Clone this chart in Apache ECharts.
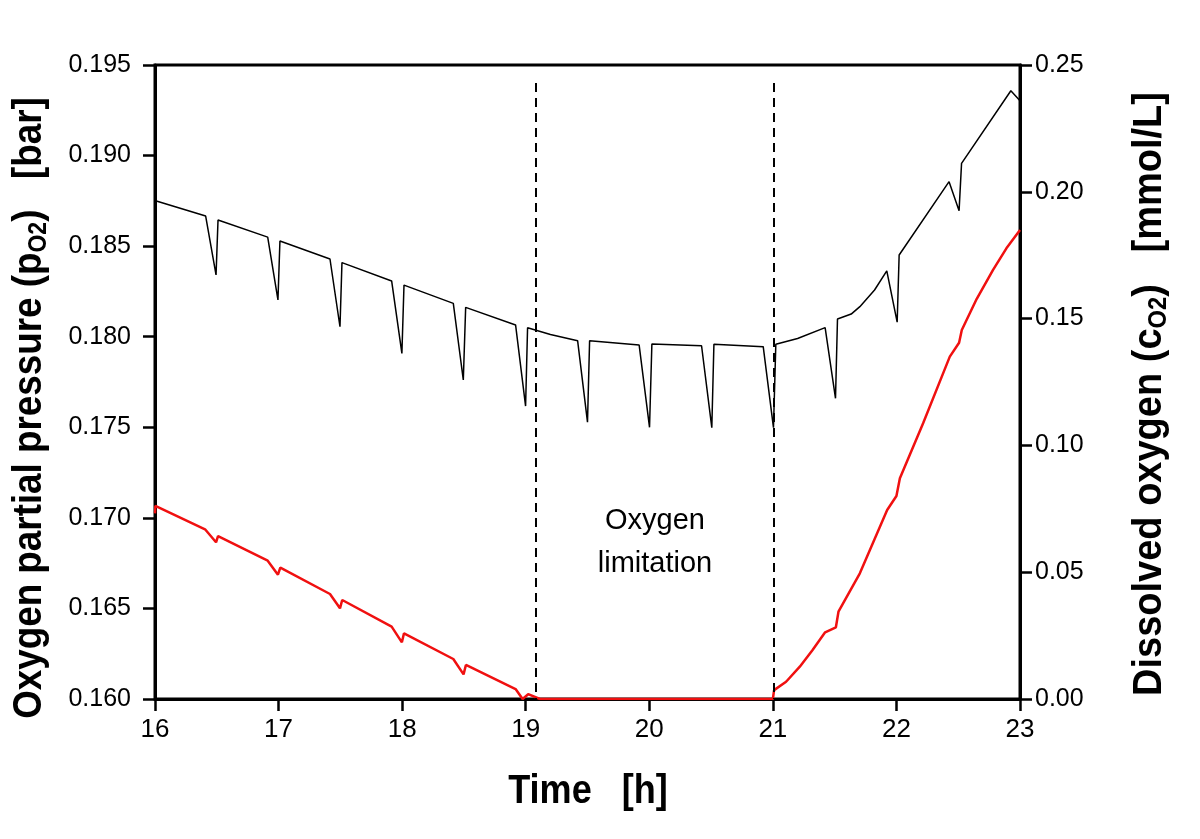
<!DOCTYPE html>
<html><head><meta charset="utf-8">
<script src="https://cdn.jsdelivr.net/npm/echarts@6/dist/echarts.min.js"></script>
<style>html,body{margin:0;padding:0;background:#fff}#c{width:1200px;height:839px}</style>
</head><body><div id="c"></div>
<script>
const timeBlack = [16.0, 16.004, 16.41, 16.494, 16.51, 16.912, 16.995, 17.011, 17.416, 17.497, 17.513, 17.915, 17.998, 18.015, 18.414, 18.495, 18.514, 18.918, 18.999, 19.015, 19.2, 19.42, 19.50, 19.517, 19.918, 20.002, 20.021, 20.423, 20.506, 20.523, 20.922, 21.005, 21.024, 21.2, 21.423, 21.507, 21.523, 21.634, 21.704, 21.823, 21.922, 22.006, 22.022, 22.426, 22.507, 22.527, 22.926, 23.0];
const pO2 = [0.1863, 0.18751, 0.18666, 0.18341, 0.18644, 0.18550, 0.18203, 0.18528, 0.18429, 0.18055, 0.18409, 0.18308, 0.17908, 0.18285, 0.18184, 0.17761, 0.18162, 0.18065, 0.17617, 0.18050, 0.18012, 0.17978, 0.17528, 0.17978, 0.17954, 0.17500, 0.17960, 0.17950, 0.17498, 0.17958, 0.17945, 0.17498, 0.17958, 0.17990, 0.18050, 0.17660, 0.18098, 0.18125, 0.18166, 0.18258, 0.18364, 0.18080, 0.18451, 0.18856, 0.18696, 0.18957, 0.19358, 0.19303];
const timeRed = [16.0, 16.003, 16.405, 16.494, 16.51, 16.912, 16.995, 17.014, 17.416, 17.497, 17.515, 17.915, 17.998, 18.015, 18.414, 18.497, 18.516, 18.918, 18.975, 19.02, 19.115, 21.0, 21.01, 21.107, 21.218, 21.32, 21.423, 21.51, 21.531, 21.704, 21.925, 22.0, 22.028, 22.216, 22.432, 22.507, 22.529, 22.65, 22.782, 22.89, 23.0];
const cO2 = [0.0732, 0.0762, 0.06692, 0.06179, 0.06427, 0.05454, 0.04902, 0.05179, 0.0414, 0.03576, 0.03904, 0.02852, 0.02235, 0.0259, 0.01577, 0.00973, 0.01341, 0.00394, 0.0, 0.0019, 0.0, 0.0, 0.0035, 0.0068, 0.01274, 0.0192, 0.0263, 0.02827, 0.03443, 0.04956, 0.07453, 0.08005, 0.08703, 0.1087, 0.135, 0.1405, 0.1455, 0.1578, 0.1692, 0.1777, 0.1849];
const limitTimes = [19.08, 21.01];
const xTitle = 'Time   [h]';
const leftTitle = '{a|Oxygen partial pressure (p}{s|O2}{a|)   [bar]}';
const rightTitle = '{a|Dissolved oxygen (c}{s|O2}{a|)   [mmol/L]}';
const noteText = 'Oxygen\nlimitation';

const chart = echarts.init(document.getElementById('c'), null, {renderer:'canvas'});
const FF = 'Liberation Sans, Arial, sans-serif';
const lbl = {color:'#000', fontFamily:FF, fontSize:25};
const axisLine = {show:true, lineStyle:{color:'#000', width:3}};
const axisTick = {show:true, inside:false, length:12, lineStyle:{color:'#000', width:2.5}};
const rich = {
  a:{fontFamily:FF, fontWeight:'bold', fontSize:40, color:'#000'},
  s:{fontFamily:FF, fontWeight:'bold', fontSize:25, color:'#000', padding:[18,0,0,0]}
};
chart.setOption({
  animation:false,
  backgroundColor:'#fff',
  grid:{left:155, right:180, top:65, bottom:140, show:true, borderColor:'#000', borderWidth:3, containLabel:false},
  xAxis:[{
    type:'value', min:16, max:23, interval:1,
    axisLine, axisTick, splitLine:{show:false},
    axisLabel:{...lbl, fontSize:26, margin:18}
  }],
  yAxis:[{
    type:'value', min:0.160, max:0.195, interval:0.005, position:'left',
    axisLine, axisTick, splitLine:{show:false},
    axisLabel:{...lbl, margin:24, formatter:v=>v.toFixed(3)}
  },{
    type:'value', min:0, max:0.25, interval:0.05, position:'right',
    axisLine, axisTick, splitLine:{show:false},
    axisLabel:{...lbl, margin:15, formatter:v=>v.toFixed(2)}
  }],
  series:[{
    type:'line', xAxisIndex:0, yAxisIndex:0, showSymbol:false, symbol:'none',
    data: timeBlack.map((t,i)=>[t,pO2[i]]),
    lineStyle:{color:'#000', width:1.5}, z:3,
    markLine:{
      silent:true, symbol:['none','none'], label:{show:false},
      lineStyle:{color:'#000', width:2, type:[9,6]},
      data: limitTimes.map(t=>[{coord:[t,0.1940]},{coord:[t,0.160]}])
    }
  },{
    type:'line', xAxisIndex:0, yAxisIndex:1, showSymbol:false, symbol:'none',
    data: timeRed.map((t,i)=>[t,cO2[i]]),
    lineStyle:{color:'#f01010', width:2.5}, z:4
  }],
  graphic:[
    {type:'text', x:588, y:792, scaleX:0.88, z:10,
     style:{text:xTitle, align:'center', verticalAlign:'middle', font:'bold 41px "Liberation Sans", Arial', fill:'#000'}},
    {type:'text', x:30, y:408, rotation:Math.PI/2, scaleX:0.92, z:10,
     style:{text:leftTitle, rich, align:'center', verticalAlign:'middle'}},
    {type:'text', x:1150, y:394, rotation:Math.PI/2, scaleX:0.95, z:10,
     style:{text:rightTitle, rich, align:'center', verticalAlign:'middle'}},
    {type:'text', x:655, y:542, z:10,
     style:{text:noteText, align:'center', verticalAlign:'middle', font:'29px "Liberation Sans", Arial', fill:'#000', lineHeight:43}}
  ]
});
</script></body></html>
